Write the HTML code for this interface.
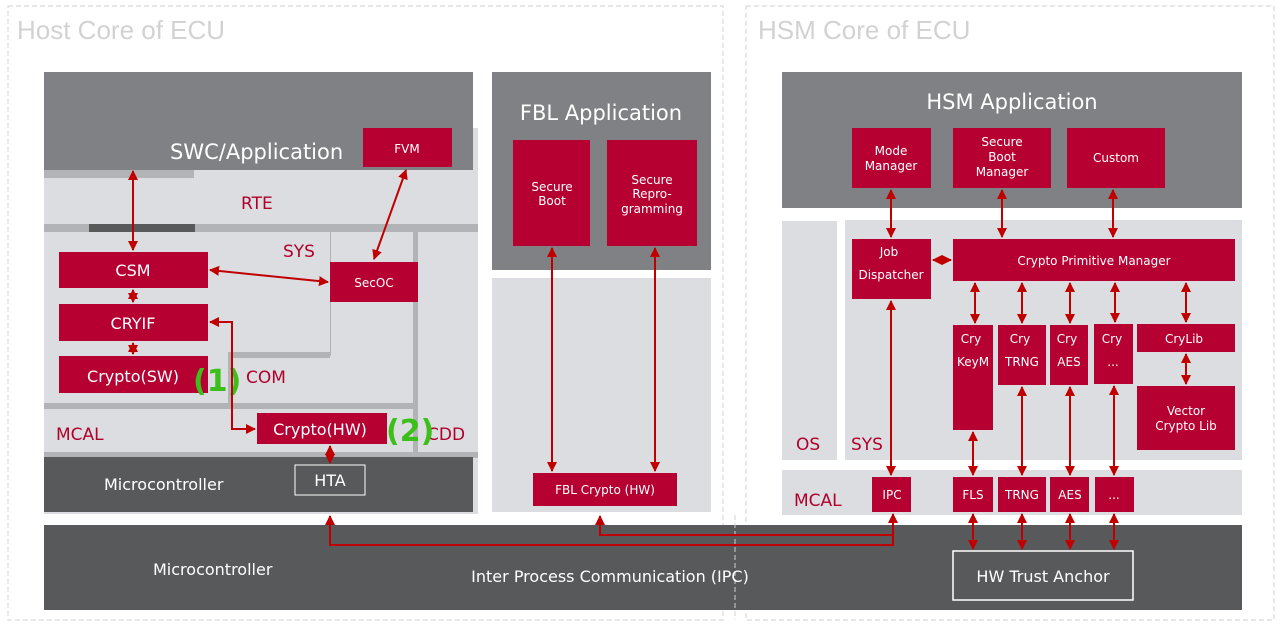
<!DOCTYPE html>
<html><head><meta charset="utf-8"><style>
html,body{margin:0;padding:0;background:#fff;}
svg{display:block;font-family:"DejaVu Sans","Liberation Sans",sans-serif;}
</style></head><body>
<svg width="1280" height="626" viewBox="0 0 1280 626" xmlns="http://www.w3.org/2000/svg">
<defs>
<marker id="a" viewBox="0 0 10 10" refX="9" refY="5" markerWidth="5" markerHeight="5" orient="auto-start-reverse"><path d="M0,0 L10,5 L0,10 z" fill="#c00000"/></marker>
</defs>
<rect x="8" y="6" width="715" height="614" fill="none" stroke="#d0d0d0" stroke-dasharray="5,3"/>
<rect x="746" y="6" width="528" height="614" fill="none" stroke="#d0d0d0" stroke-dasharray="5,3"/>
<text x="17" y="39" font-size="26" fill="#d2d2d2" font-family="Liberation Sans,sans-serif">Host Core of ECU</text>
<text x="758" y="39" font-size="26" fill="#d2d2d2" font-family="Liberation Sans,sans-serif">HSM Core of ECU</text>

<rect x="44" y="128" width="434" height="386" fill="#dcdde0"/>
<rect x="44" y="72" width="429" height="98" fill="#7f8184"/>
<rect x="44" y="170" width="150" height="8" fill="#b1b3b6"/>
<text x="170" y="159" font-size="21" fill="#fff">SWC/Application</text>
<text x="241" y="209" font-size="17" fill="#b0002c">RTE</text>
<rect x="44" y="224" width="434" height="8" fill="#b1b3b6"/>
<rect x="89" y="224" width="106" height="8" fill="#58595b"/>
<rect x="230" y="352" width="100" height="6" fill="#b1b3b6"/>
<rect x="228" y="352" width="4" height="54" fill="#b1b3b6"/>
<rect x="330" y="232" width="1" height="124" fill="#b1b3b6"/>
<rect x="413" y="232" width="5" height="225" fill="#b1b3b6"/>
<rect x="44" y="403" width="370" height="6" fill="#b1b3b6"/>
<rect x="44" y="452" width="434" height="6" fill="#b1b3b6"/>
<text x="283" y="257" font-size="17" fill="#b0002c">SYS</text>
<text x="246" y="383" font-size="17" fill="#b0002c">COM</text>
<text x="56" y="440" font-size="17" fill="#b0002c">MCAL</text>
<text x="427" y="440" font-size="17" fill="#b0002c">CDD</text>
<rect x="44" y="457" width="429" height="55" fill="#58595b"/>
<text x="104" y="490" font-size="16" fill="#fff">Microcontroller</text>
<rect x="295" y="465" width="70" height="30" fill="none" stroke="#fff" stroke-width="1"/>
<text x="330" y="486" font-size="16" fill="#fff" text-anchor="middle">HTA</text>

<g fill="#b60031">
<rect x="363" y="128" width="89" height="39"/>
<rect x="59" y="252" width="149" height="36"/>
<rect x="59" y="304" width="149" height="37"/>
<rect x="59" y="356" width="149" height="37"/>
<rect x="330" y="262" width="88" height="40"/>
<rect x="257" y="413" width="130" height="31"/>
</g>
<g fill="#fff" text-anchor="middle">
<text x="407" y="153" font-size="12">FVM</text>
<text x="133" y="276" font-size="16">CSM</text>
<text x="133" y="329" font-size="16">CRYIF</text>
<text x="133" y="382" font-size="16">Crypto(SW)</text>
<text x="374" y="287" font-size="12">SecOC</text>
<text x="320" y="435" font-size="16">Crypto(HW)</text>
</g>
<g fill="#3cbf1a" font-weight="bold" font-size="30">
<text x="193" y="391">(1)</text>
<text x="386" y="441">(2)</text>
<text x="1194" y="427">(3)</text>
</g>

<rect x="492" y="72" width="219" height="198" fill="#7f8184"/>
<rect x="492" y="278" width="219" height="234" fill="#dcdde0"/>
<text x="601" y="120" font-size="21" fill="#fff" text-anchor="middle">FBL Application</text>
<g fill="#b60031">
<rect x="513" y="140" width="77" height="106"/>
<rect x="607" y="140" width="90" height="106"/>
<rect x="533" y="473" width="144" height="33"/>
</g>
<g fill="#fff" text-anchor="middle" font-size="12">
<text x="552" y="191">Secure</text><text x="552" y="205">Boot</text>
<text x="652" y="184">Secure</text><text x="652" y="198">Repro-</text><text x="652" y="213">gramming</text>
<text x="605" y="494">FBL Crypto (HW)</text>
</g>

<rect x="782" y="72" width="460" height="136" fill="#7f8184"/>
<text x="1012" y="109" font-size="21" fill="#fff" text-anchor="middle">HSM Application</text>
<rect x="782" y="221" width="55" height="239" fill="#dcdde0"/>
<rect x="845" y="220" width="397" height="240" fill="#dcdde0"/>
<rect x="782" y="470" width="460" height="45" fill="#dcdde0"/>
<text x="796" y="450" font-size="17" fill="#b0002c">OS</text>
<text x="851" y="450" font-size="17" fill="#b0002c">SYS</text>
<text x="794" y="506" font-size="17" fill="#b0002c">MCAL</text>
<g fill="#b60031">
<rect x="852" y="128" width="79" height="60"/>
<rect x="953" y="128" width="98" height="60"/>
<rect x="1067" y="128" width="98" height="60"/>
<rect x="852" y="239" width="79" height="60"/>
<rect x="953" y="239" width="282" height="42"/>
<rect x="953" y="325" width="40" height="105"/>
<rect x="998" y="325" width="48" height="60"/>
<rect x="1050" y="325" width="38" height="60"/>
<rect x="1094" y="324" width="39" height="60"/>
<rect x="1137" y="324" width="98" height="28"/>
<rect x="1137" y="386" width="98" height="64"/>
<rect x="872" y="477" width="39" height="35"/>
<rect x="953" y="477" width="40" height="35"/>
<rect x="998" y="477" width="48" height="35"/>
<rect x="1050" y="477" width="39" height="35"/>
<rect x="1095" y="477" width="39" height="35"/>
</g>
<g fill="#fff" text-anchor="middle" font-size="12">
<text x="891" y="155">Mode</text><text x="891" y="170">Manager</text>
<text x="1002" y="146">Secure</text><text x="1002" y="161">Boot</text><text x="1002" y="176">Manager</text>
<text x="1116" y="162">Custom</text>
<text x="889" y="256">Job</text><text x="891" y="279">Dispatcher</text>
<text x="1094" y="265">Crypto Primitive Manager</text>
<text x="971" y="343">Cry</text><text x="973" y="366">KeyM</text>
<text x="1020" y="343">Cry</text><text x="1022" y="366">TRNG</text>
<text x="1067" y="343">Cry</text><text x="1069" y="366">AES</text>
<text x="1112" y="343">Cry</text><text x="1113" y="366">...</text>
<text x="1184" y="343">CryLib</text>
<text x="1186" y="415">Vector</text><text x="1186" y="430">Crypto Lib</text>
<text x="892" y="499">IPC</text>
<text x="973" y="499">FLS</text>
<text x="1022" y="499">TRNG</text>
<text x="1070" y="499">AES</text>
<text x="1114" y="499">...</text>
</g>

<rect x="44" y="525" width="1198" height="85" fill="#58595b"/>
<line x1="735" y1="515" x2="735" y2="620" stroke="#d0d0d0" stroke-dasharray="5,3"/>
<text x="153" y="575" font-size="16" fill="#fff">Microcontroller</text>
<text x="610" y="582" font-size="16" fill="#fff" text-anchor="middle">Inter Process Communication (IPC)</text>
<rect x="953" y="551" width="180" height="49" fill="none" stroke="#fff" stroke-width="1.5"/>
<text x="1043" y="582" font-size="16" fill="#fff" text-anchor="middle">HW Trust Anchor</text>

<g stroke="#c00000" stroke-width="2" fill="none" marker-start="url(#a)" marker-end="url(#a)">
<line x1="133" y1="171" x2="133" y2="250"/>
<line x1="133" y1="290" x2="133" y2="302"/>
<line x1="133" y1="343" x2="133" y2="354"/>
<line x1="210" y1="270" x2="328" y2="282"/>
<line x1="406" y1="170" x2="374" y2="259"/>
<polyline points="210,322 232,322 232,429 255,429"/>
<line x1="330" y1="446" x2="330" y2="463"/>
<line x1="552" y1="248" x2="552" y2="471"/>
<line x1="655" y1="248" x2="655" y2="471"/>
<polyline points="330,516 330,545 893,545 893,514"/>
<line x1="891" y1="190" x2="891" y2="237"/>
<line x1="1002" y1="190" x2="1002" y2="237"/>
<line x1="1113" y1="190" x2="1113" y2="237"/>
<line x1="933" y1="260" x2="951" y2="260"/>
<line x1="891" y1="301" x2="891" y2="475"/>
<line x1="975" y1="283" x2="975" y2="323"/>
<line x1="1022" y1="283" x2="1022" y2="323"/>
<line x1="1070" y1="283" x2="1070" y2="323"/>
<line x1="1115" y1="283" x2="1115" y2="322"/>
<line x1="1186" y1="283" x2="1186" y2="322"/>
<line x1="1186" y1="354" x2="1186" y2="384"/>
<line x1="973" y1="432" x2="973" y2="475"/>
<line x1="1022" y1="387" x2="1022" y2="475"/>
<line x1="1070" y1="387" x2="1070" y2="475"/>
<line x1="1114" y1="386" x2="1114" y2="475"/>
<line x1="973" y1="514" x2="973" y2="549"/>
<line x1="1022" y1="514" x2="1022" y2="549"/>
<line x1="1070" y1="514" x2="1070" y2="549"/>
<line x1="1114" y1="514" x2="1114" y2="549"/>
</g>
<polyline points="893,535 600,535 600,516" stroke="#c00000" stroke-width="2" fill="none" marker-end="url(#a)"/>
</svg>
</body></html>
